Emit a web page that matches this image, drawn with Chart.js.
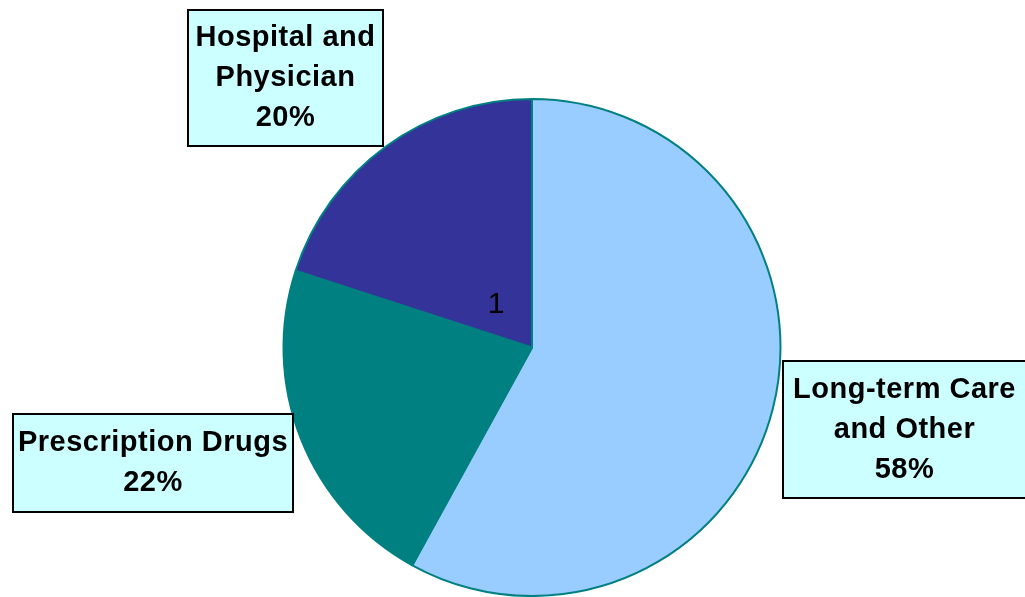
<!DOCTYPE html>
<html>
<head>
<meta charset="utf-8">
<script src="https://cdn.jsdelivr.net/npm/chart.js@4"></script>
<style>
  body { margin: 0; background: #fff; }
  #wrap { width: 1025px; height: 597px; }
</style>
</head>
<body>
<div id="wrap"><canvas id="pie-chart" width="1025" height="597"></canvas></div>
<script>
const categories = ['Long-term Care and Other', 'Prescription Drugs', 'Hospital and Physician'];
const shares = [58, 22, 20];
const seriesName = '1';

// label box lines per slice (as wrapped in the picture)
const labelLines = [
  ['Long-term Care', 'and Other'],
  ['Prescription Drugs'],
  ['Hospital and', 'Physician'],
];
const boxes = [
  { x: 783, y: 361, w: 243, h: 137 },
  { x: 13, y: 414, w: 280, h: 98 },
  { x: 188, y: 10, w: 195, h: 136 },
];

const labelBoxes = {
  id: 'labelBoxes',
  afterDraw(chart) {
    const ctx = chart.ctx;
    ctx.save();
    ctx.textAlign = 'center';
    ctx.textBaseline = 'middle';
    chart.data.datasets[0].data.forEach((v, i) => {
      const b = boxes[i];
      ctx.fillStyle = '#CCFFFF';
      ctx.fillRect(b.x, b.y, b.w, b.h);
      ctx.strokeStyle = '#000';
      ctx.lineWidth = 2;
      ctx.strokeRect(b.x, b.y, b.w, b.h);
      const lines = labelLines[i].concat([v + '%']);
      const lh = 40;
      const top = b.y + b.h / 2 - (lines.length - 1) * lh / 2;
      ctx.fillStyle = '#000';
      ctx.font = 'bold 29px "Liberation Sans", Arial, sans-serif';
      ctx.letterSpacing = '0.5px';
      lines.forEach((t, k) => ctx.fillText(t, b.x + b.w / 2, top + k * lh));
    });
    // series name in the middle of the chart
    const arc = chart.getDatasetMeta(0).data[0];
    ctx.letterSpacing = '0px';
    ctx.font = '30px "Liberation Sans", Arial, sans-serif';
    ctx.fillText(seriesName, arc.x - 36, arc.y - 43);
    ctx.restore();
  }
};

new Chart(document.getElementById('pie-chart'), {
  type: 'pie',
  data: {
    labels: categories,
    datasets: [{
      label: seriesName,
      data: shares,
      backgroundColor: ['#99CCFF', '#008080', '#333399'],
      borderColor: '#008080',
      borderWidth: 2,
    }],
  },
  options: {
    responsive: false,
    animation: false,
    layout: { padding: { top: 98, bottom: 0, left: 39, right: 0 } },
    plugins: {
      legend: { display: false },
      tooltip: { enabled: false },
    },
  },
  plugins: [labelBoxes],
});
</script>
</body>
</html>
